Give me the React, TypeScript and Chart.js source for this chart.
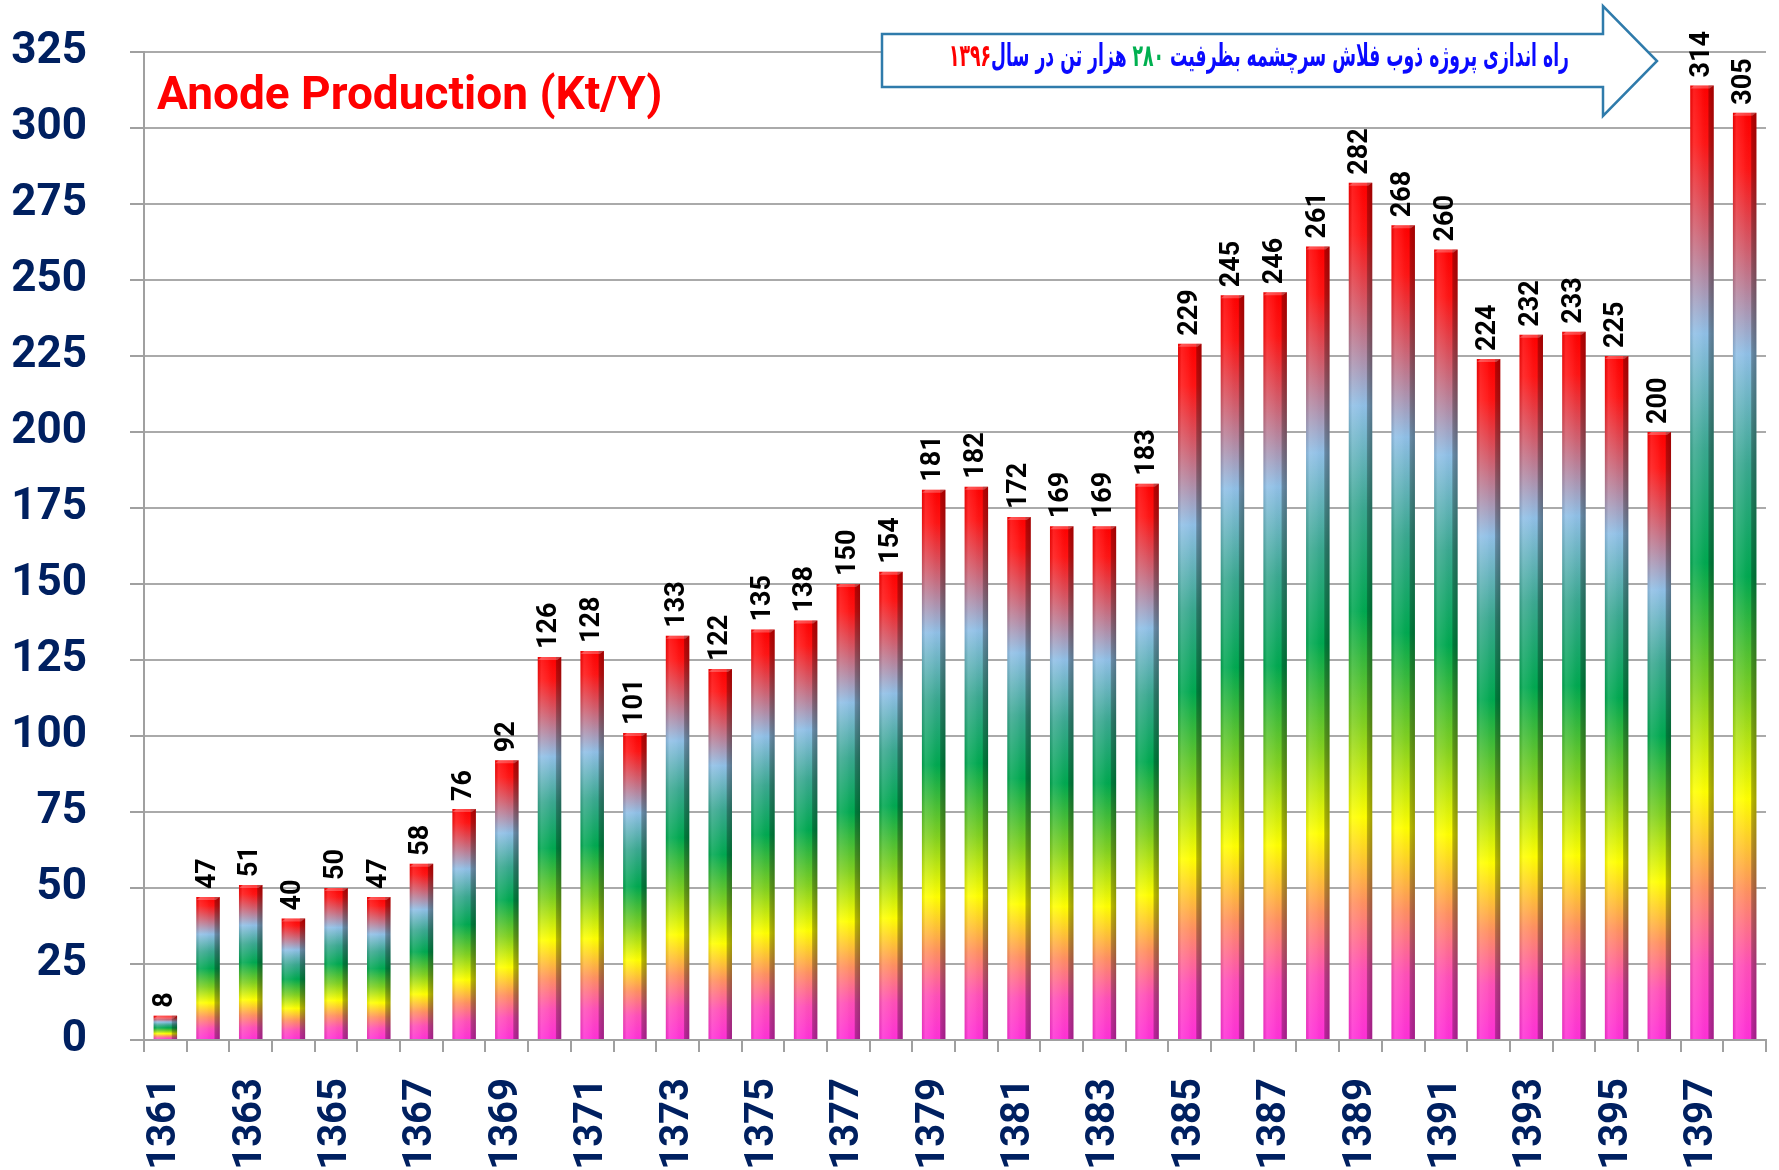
import React, { useEffect, useRef } from 'react';
import { Chart, registerables } from 'chart.js';

Chart.register(...registerables);

const years = [
  '1361', '1362', '1363', '1364', '1365', '1366', '1367', '1368', '1369', '1370',
  '1371', '1372', '1373', '1374', '1375', '1376', '1377', '1378', '1379', '1380',
  '1381', '1382', '1383', '1384', '1385', '1386', '1387', '1388', '1389', '1390',
  '1391', '1392', '1393', '1394', '1395', '1396', '1397', '1398',
];

const production = [
  8, 47, 51, 40, 50, 47, 58, 76, 92, 126,
  128, 101, 133, 122, 135, 138, 150, 154, 181, 182,
  172, 169, 169, 183, 229, 245, 246, 261, 282, 268,
  260, 224, 232, 233, 225, 200, 314, 305,
];

const yMax = 325;
const yStep = 25;

const titleText = 'Anode Production (Kt/Y)';

const noteSegments = [
  { text: 'راه اندازی پروژه ذوب فلاش سرچشمه بظرفیت ', color: '#0a0aff' },
  { text: '۲۸۰', color: '#00b050' },
  { text: ' هزار تن در سال', color: '#0a0aff' },
  { text: '۱۳۹۶', color: '#ff0000' },
];

const gradientStops: [number, string][] = [
  [0, '#ff2fd8'],
  [0.08, '#ff4fb8'],
  [0.16, '#ff9060'],
  [0.26, '#ffff00'],
  [0.37, '#80d020'],
  [0.5, '#00a850'],
  [0.62, '#3aa890'],
  [0.74, '#8fbfe6'],
  [0.85, '#d06070'],
  [0.94, '#ff1414'],
  [1, '#ff0000'],
];

const barFill = (c: any) => {
  const chart = c.chart;
  if (!chart.chartArea || c.type !== 'data') return '#ff2fd8';
  const y = chart.scales.y;
  const top = y.getPixelForValue(c.raw);
  const bot = y.getPixelForValue(0);
  const g = chart.ctx.createLinearGradient(0, bot, 0, top);
  gradientStops.forEach(([o, col]) => g.addColorStop(o, col));
  return g;
};

const decor = {
  id: 'decor',
  afterDatasetsDraw(chart: any) {
    const ctx = chart.ctx;
    const meta = chart.getDatasetMeta(0);
    meta.data.forEach((bar: any, i: number) => {
      const { x, y, base, width } = bar.getProps(['x', 'y', 'base', 'width'], true);
      const left = x - width / 2;
      const hg = ctx.createLinearGradient(left, 0, left + width, 0);
      hg.addColorStop(0, 'rgba(0,0,0,0.10)');
      hg.addColorStop(0.15, 'rgba(255,255,255,0.12)');
      hg.addColorStop(0.45, 'rgba(255,255,255,0.05)');
      hg.addColorStop(0.75, 'rgba(0,0,0,0.0)');
      hg.addColorStop(0.8, 'rgba(0,0,0,0.28)');
      hg.addColorStop(1, 'rgba(0,0,0,0.38)');
      ctx.save();
      ctx.fillStyle = hg;
      ctx.fillRect(left, y, width, base - y);
      ctx.fillStyle = 'rgba(255,255,255,0.25)';
      ctx.beginPath();
      ctx.moveTo(left, y + 3);
      ctx.lineTo(left + 4, y);
      ctx.lineTo(left + width, y);
      ctx.lineTo(left + width - 4, y + 3);
      ctx.closePath();
      ctx.fill();
      ctx.restore();

      ctx.save();
      ctx.translate(x, y - 8);
      ctx.rotate(-Math.PI / 2);
      ctx.font = 'bold 27px Roboto';
      ctx.fillStyle = '#000000';
      ctx.textAlign = 'left';
      ctx.textBaseline = 'middle';
      ctx.fillText(String(production[i]), 0, 0);
      ctx.restore();
    });
  },
  afterDraw(chart: any) {
    const ctx = chart.ctx;
    const area = chart.chartArea;
    ctx.save();
    ctx.font = 'bold 46px Roboto';
    ctx.fillStyle = '#ff0000';
    ctx.textAlign = 'left';
    ctx.textBaseline = 'alphabetic';
    ctx.fillText(titleText, area.left + 13, 109);
    ctx.restore();

    const bx0 = 882, bx1 = 1603, tipX = 1657;
    const by0 = 34, by1 = 87, hy0 = 6, hy1 = 116, tipY = 61;
    ctx.save();
    ctx.beginPath();
    ctx.moveTo(bx0, by0);
    ctx.lineTo(bx1, by0);
    ctx.lineTo(bx1, hy0);
    ctx.lineTo(tipX, tipY);
    ctx.lineTo(bx1, hy1);
    ctx.lineTo(bx1, by1);
    ctx.lineTo(bx0, by1);
    ctx.closePath();
    ctx.fillStyle = '#ffffff';
    ctx.fill();
    ctx.strokeStyle = '#2f7bab';
    ctx.lineWidth = 2.5;
    ctx.stroke();

    ctx.font = 'bold 31px "DejaVu Sans"';
    ctx.direction = 'rtl';
    ctx.textAlign = 'right';
    ctx.textBaseline = 'middle';
    const widths = noteSegments.map((s) => ctx.measureText(s.text).width);
    const total = widths.reduce((a, b) => a + b, 0);
    const targetW = 620;
    const sx = Math.min(1, targetW / total);
    ctx.translate(1259, 58);
    ctx.scale(sx, 1);
    let xr = total / 2;
    noteSegments.forEach((s, k) => {
      ctx.fillStyle = s.color;
      ctx.fillText(s.text, xr, 0);
      xr -= widths[k];
    });
    ctx.restore();
  },
};

export default function App() {
  const ref = useRef<HTMLCanvasElement>(null);
  useEffect(() => {
    const canvas = ref.current!;
    const chart = new Chart(canvas, {
      type: 'bar',
      data: {
        labels: years,
        datasets: [
          {
            data: production,
            backgroundColor: barFill,
            borderWidth: 0,
            barPercentage: 0.55,
            categoryPercentage: 1,
          },
        ],
      },
      options: {
        animation: false,
        responsive: false,
        maintainAspectRatio: false,
        layout: { padding: { top: 52, right: 13, left: 0, bottom: 0 } },
        plugins: {
          legend: { display: false },
          tooltip: { enabled: false },
          title: { display: false },
        },
        scales: {
          x: {
            grid: {
              display: true,
              drawOnChartArea: false,
              drawTicks: true,
              tickLength: 12,
              color: '#a0a0a0',
              lineWidth: 2,
              offset: true,
            },
            border: { display: true, color: '#a0a0a0', width: 2 },
            ticks: {
              autoSkip: false,
              maxRotation: 90,
              minRotation: 90,
              padding: 26,
              color: '#002060',
              font: { family: 'Roboto', weight: 'bold', size: 40 },
              callback: (_v: any, i: number) => (i % 2 === 0 ? years[i] : ''),
            },
            afterFit: (s: any) => {
              s.height = 130;
              s.paddingLeft = 0;
              s.paddingRight = 0;
            },
          },
          y: {
            min: 0,
            max: yMax,
            ticks: {
              stepSize: yStep,
              color: '#002060',
              font: { family: 'Roboto', weight: 'bold', size: 44 },
              padding: 43,
            },
            grid: {
              color: '#aaaaaa',
              lineWidth: 2,
              tickLength: 14,
              tickColor: '#a0a0a0',
            },
            border: { display: true, color: '#a0a0a0', width: 2 },
            afterFit: (s: any) => {
              s.width = 144;
              s.paddingTop = 0;
              s.paddingBottom = 0;
            },
          },
        },
      },
      plugins: [decor],
    });
    return () => chart.destroy();
  }, []);
  return (
    <div style={{ position: 'fixed', left: 0, top: 0, width: 1779, height: 1170, background: '#ffffff' }}>
      <canvas ref={ref} width={1779} height={1170} style={{ width: 1779, height: 1170, display: 'block' }} />
    </div>
  );
}
